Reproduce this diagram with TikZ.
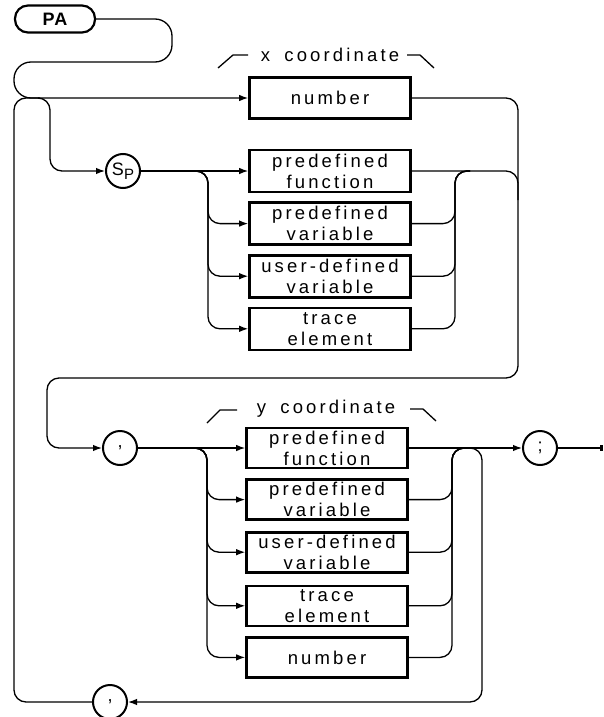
\documentclass[tikz,border=0pt]{standalone}
\usepackage{fontspec}
\newfontfamily\plotfont[LetterSpace=17]{Liberation Sans}
\newfontfamily\plotbold[LetterSpace=6]{Liberation Sans}
\usetikzlibrary{positioning,arrows.meta}
\tikzset{
  syntax box/.style={draw,line width=2.6pt,minimum width=161pt,minimum height=42pt,
    inner sep=0pt,align=center,font=\plotfont\fontsize{18.5}{21}\selectfont},
  syntax circle/.style={draw,circle,line width=2pt,minimum size=34pt,inner sep=0pt,
    font=\plotfont\fontsize{18}{18}\selectfont},
  syntax label/.style={font=\plotfont\fontsize{18.5}{19}\selectfont,inner sep=2pt},
  syntax arrow/.style={-{Latex[length=9pt,width=6.5pt]},line width=1.3pt},
  syntax line/.style={line width=1.3pt,rounded corners=12pt},
  syntax bracket/.style={line width=1.3pt}
}
\begin{document}
\begin{tikzpicture}[x=1pt,y=-1pt]
  \useasboundingbox (0,0) rectangle (603,717);
  \node[draw,line width=2.2pt,rounded corners=13pt,minimum width=80pt,minimum height=27pt,
    inner sep=0pt,font=\plotbold\bfseries\fontsize{18}{18}\selectfont] (pa) at (55,19) {PA};
  % x coordinate
  \node[syntax label] (xlab) at (330,55) {x\hspace{6pt} coordinate};
  \draw[syntax bracket] (218,68) -- (233,55) -- (248,55);
  \draw[syntax bracket] (407,55) -- (420,55) -- (434,68);
  \node[syntax box,minimum height=41pt] (num1) at (330,98) {number};
  \node[syntax circle] (sp) at (123,171) {S\raisebox{-4pt}{\fontsize{15}{15}\selectfont P}};
  \node[syntax box] (pf1) at (330,171) {predefined\\function};
  \node[syntax box,below=8pt of pf1] (pv1) {predefined\\variable};
  \node[syntax box,below=8pt of pv1] (ud1) {user-defined\\variable};
  \node[syntax box,below=8pt of ud1] (te1) {trace\\element};
  % y coordinate
  \node[syntax circle] (comma1) at (120,448) {,};
  \node[syntax label] (ylab) at (326,409) {y\hspace{6pt} coordinate};
  \draw[syntax bracket] (207,423) -- (220,410) -- (237,410);
  \draw[syntax bracket] (410,409) -- (423,409) -- (436,421);
  \node[syntax box,minimum height=40pt] (pf2) at (327,448) {predefined\\function};
  \node[syntax box,minimum height=40pt,below=9pt of pf2] (pv2) {predefined\\variable};
  \node[syntax box,minimum height=40pt,below=10pt of pv2] (ud2) {user-defined\\variable};
  \node[syntax box,minimum height=40pt,below=11pt of ud2] (te2) {trace\\element};
  \node[syntax box,minimum height=40pt,below=9pt of te2] (num2) {number};
  \node[syntax circle] (semi) at (540,448) {;};
  \node[syntax circle] (comma2) at (110,702) {,};
  \coordinate (exit) at (601,448);

  % connectors
  \draw[syntax line,syntax arrow,rounded corners=17pt] (pa.east) -- (172,19) -- (172,62)
    -- (14,62) -- (14,98) -- (num1.west);
  \draw[syntax line] (comma2.west) -- (14,702) -- (14,98) -- (40,98);
  \draw[syntax line,syntax arrow] (38,98) -- (50,98) -- (50,171) -- (sp.west);
  \draw[syntax arrow] (sp.east) -- (pf1.west);
  \foreach \b in {pv1,ud1,te1} {
    \draw[syntax line,syntax arrow] (195,171) -- (208,171) |- (\b.west);
    \draw[syntax line] (\b.east) -| (455,171) -- (470,171);
  }
  \draw[syntax line] (pf1.east) -- (518,171) -- (518,200);
  \draw[syntax line,syntax arrow] (num1.east) -- (518,98) -- (518,378) -- (47,378)
    -- (47,448) -- (comma1.west);
  \draw[syntax arrow] (comma1.east) -- (pf2.west);
  \foreach \b in {pv2,ud2,te2,num2} {
    \draw[syntax line,syntax arrow] (195,448) -- (207,448) |- (\b.west);
    \draw[syntax line] (\b.east) -| (452,448) -- (468,448);
  }
  \draw[syntax arrow] (pf2.east) -- (semi.west);
  \draw[syntax line,syntax arrow] (466,448) -- (482,448) -- (482,702) -- (comma2.east);
  \draw[line width=1.3pt] (semi.east) -- (exit);
  \fill (exit) ++(-1.5,-3) rectangle ++(3,6);
\end{tikzpicture}
\end{document}
